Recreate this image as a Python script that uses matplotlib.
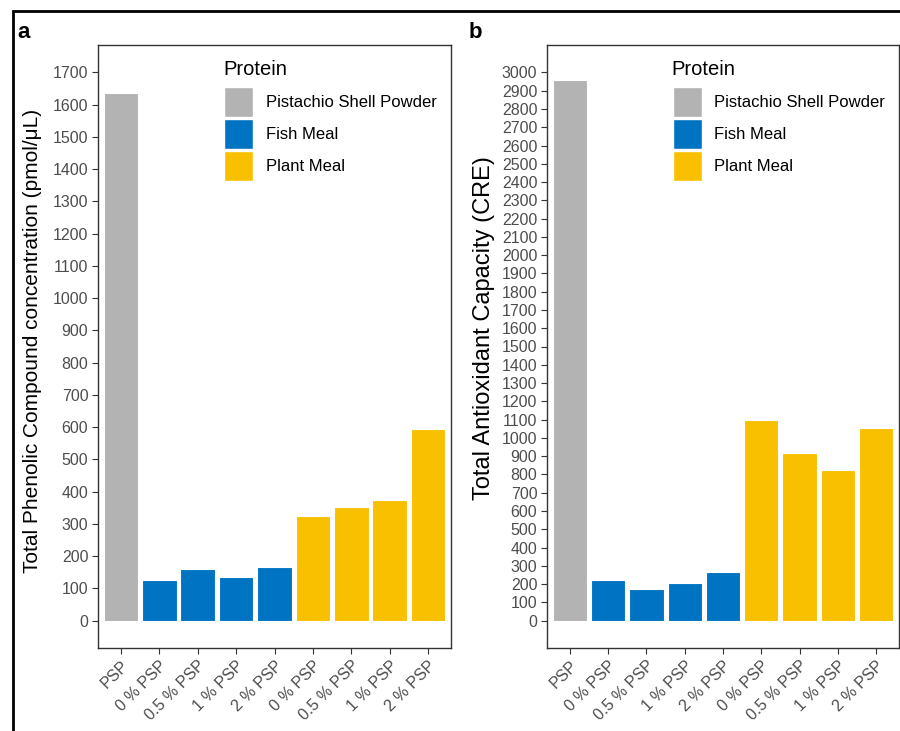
import matplotlib.pyplot as plt
from matplotlib.patches import Patch, Rectangle

plt.rcParams['font.family'] = ['Liberation Sans', 'DejaVu Sans']

labels = ['PSP', '0 % PSP', '0.5 % PSP', '1 % PSP', '2 % PSP',
          '0 % PSP', '0.5 % PSP', '1 % PSP', '2 % PSP']
groups = ['Pistachio Shell Powder'] + ['Fish Meal'] * 4 + ['Plant Meal'] * 4
phenolic = [1635, 126, 161, 134, 167, 325, 353, 373, 594]
antiox = [2960, 223, 174, 203, 265, 1097, 917, 825, 1055]

colors = {'Pistachio Shell Powder': '#B3B3B3',
          'Fish Meal': '#0073C2',
          'Plant Meal': '#F9C000'}

fig = plt.figure(figsize=(9, 7.31), dpi=100)

# outer black frame (cropped on right/bottom in the original)
fig.patches.append(Rectangle((13 / 900, -0.05), 1.2, (731 - 11) / 731 + 0.05,
                             transform=fig.transFigure, fill=False,
                             edgecolor='black', linewidth=2))


def panel(rect, values, ytop, ylabel, ylsize, ylpos, letter, letter_x):
    ax = fig.add_axes(rect)
    x = range(1, len(values) + 1)
    ax.bar(x, values, width=0.9, color=[colors[g] for g in groups],
           edgecolor='white', linewidth=0.8)
    ax.set_xlim(0.4, len(values) + 0.6)
    ax.set_ylim(-0.05 * ytop, 1.05 * ytop)
    ax.set_yticks(range(0, ytop + 1, 100))
    ax.set_xticks(list(x))
    ax.set_xticklabels(labels, rotation=45, ha='right', va='top',
                       rotation_mode='anchor')
    ax.tick_params(axis='both', labelsize=11.5, labelcolor='#4D4D4D',
                   color='#333333', length=4, width=0.8, pad=3)
    ax.set_ylabel(ylabel, fontsize=ylsize)
    ax.yaxis.set_label_coords(*ylpos)
    for s in ax.spines.values():
        s.set_color('#333333')
        s.set_linewidth(1)

    # legend inside the panel, title drawn as separate text
    handles = [Patch(facecolor=c, edgecolor='white', linewidth=1, label=k)
               for k, c in colors.items()]
    ax.legend(handles=handles, loc='upper left',
              bbox_to_anchor=(0.357, 0.930), frameon=False,
              fontsize=12, handlelength=1.74, handleheight=2.35,
              labelspacing=0.15, handletextpad=0.75,
              borderpad=0, borderaxespad=0)
    ax.text(0.354, 0.951, 'Protein', transform=ax.transAxes,
            fontsize=14.5, va='baseline', ha='left')
    fig.text(letter_x, 1 - 32 / 731, letter, fontsize=16, fontweight='bold',
             va='center', ha='left')
    return ax


panel([98 / 900, 83 / 731, 353 / 900, 603 / 731], phenolic, 1700,
      'Total Phenolic Compound concentration (pmol/\u03bcL)', 15,
      (-0.159, 0.51), 'a', 17 / 900)
panel([547 / 900, 83 / 731, 352 / 900, 603 / 731], antiox, 3000,
      'Total Antioxidant Capacity (CRE)', 17, (-0.147, 0.531), 'b', 469 / 900)

fig.savefig('out.png', dpi=100)
